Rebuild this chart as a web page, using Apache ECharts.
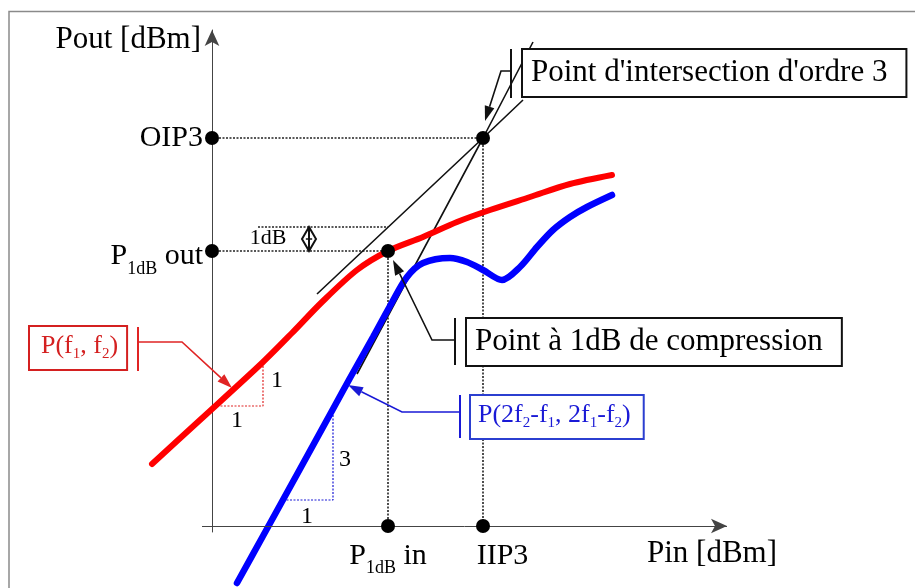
<!DOCTYPE html>
<html>
<head>
<meta charset="utf-8">
<script src="https://cdn.jsdelivr.net/npm/echarts@6/dist/echarts.min.js"></script>
<style>
  html, body { margin: 0; padding: 0; background: #fff; }
  #chart { width: 915px; height: 588px; }
</style>
</head>
<body>
<div id="chart"></div>
<script>
// Fundamental output P(f1, f2) against input power (dBm, schematic scale)
const pinFund  = [-6.0, -1.2, 5.0, 8.0, 11.0, 14.5, 17.6, 21.1, 24.5, 27.8, 31.8, 35.8, 40.0];
const poutFund = [ 6.2, 10.6, 16.3, 19.3, 22.4, 25.6, 27.5, 28.9, 30.4, 31.6, 32.9, 34.2, 35.1];

// Third-order intermodulation output P(2f2-f1, 2f1-f2)
const pinIm3  = [ 2.5, 5.1, 8.8, 12.1, 13.8, 16.1, 17.8, 19.5, 21.1, 23.8, 25.5, 27.1, 29.0, 30.8, 32.5, 34.1, 35.8, 37.5, 40.0];
const poutIm3 = [-5.7, -1.0, 5.7, 11.7, 14.8, 18.9, 22.0, 24.9, 26.3, 26.8, 26.4, 25.6, 24.6, 25.9, 27.9, 29.6, 30.9, 31.9, 33.1];

// Characteristic points
const P1DB_IN = 17.6;
const P1DB_OUT = 27.5;
const LINEAR_AT_P1DB = 29.9;   // ideal (uncompressed) output at P1dB in
const IIP3 = 27.1;
const OIP3 = 38.8;

// Extrapolated slope-1 and slope-3 asymptotes meeting at the intercept point
const asymFund = [[10.5, 23.2], [IIP3, OIP3], [31.1, 42.6]];
const asymIm3  = [[14.5, 15.2], [IIP3, OIP3], [32.1, 48.4]];

// Axis tick values and labels
const xTickValues = [P1DB_IN, IIP3];
const xTickLabels = ['{m|P}{s|1dB}{m| in}', '{g|IIP3}'];
const yTickValues = [P1DB_OUT, OIP3];
const yTickLabels = ['{m|P}{s|1dB}{m| out}', 'OIP3'];

// Pin scale range, and the visible span of its axis line
const X_MIN = -6.5, X_MAX = 51.5;
const X_LINE = [-1, 51.5];
const PX_PER_UNIT = 10;

const SERIF = 'Liberation Serif';

function pairs(xs, ys) { return xs.map((x, i) => [x, ys[i]]); }
function pick(values, labels, v) {
  for (let i = 0; i < values.length; i++) if (Math.abs(values[i] - v) < 1e-6) return labels[i];
  return '';
}

// Callouts: bracket bar, elbow path ending in an arrow tip
const callouts = [
  { color: '#111', bar: [[29.9, 47.7], [29.9, 42.8]], path: [[29.9, 45.5], [28.9, 45.5], [27.3, 40.5]] },
  { color: '#111', bar: [[24.3, 20.8], [24.3, 16.1]], path: [[24.3, 18.6], [22.0, 18.6], [18.1, 26.6]] },
  { color: '#1a1ad6', bar: [[24.8, 13.1], [24.8, 8.8]], path: [[24.8, 11.4], [19.0, 11.4], [13.6, 14.1]] },
  { color: '#e02424', bar: [[-7.4, 19.9], [-7.4, 15.5]], path: [[-7.4, 18.4], [-3.0, 18.4], [2.0, 13.8]] }
];

function renderCallout(params, api) {
  const c = callouts[params.dataIndex];
  const pts = c.path.map(p => api.coord(p));
  const bar = c.bar.map(p => api.coord(p));
  const tip = pts[pts.length - 1], prev = pts[pts.length - 2];
  const dx = tip[0] - prev[0], dy = tip[1] - prev[1];
  const len = Math.hypot(dx, dy), ux = dx / len, uy = dy / len;
  const L = 15, W = 5;
  const base = [tip[0] - ux * L, tip[1] - uy * L];
  const head = [tip, [base[0] - uy * W, base[1] + ux * W], [base[0] + uy * W, base[1] - ux * W]];
  const linePts = pts.slice(0, -1).concat([base]);
  return {
    type: 'group',
    children: [
      { type: 'polyline', shape: { points: linePts }, style: { stroke: c.color, lineWidth: 1.6, fill: null } },
      { type: 'line', shape: { x1: bar[0][0], y1: bar[0][1], x2: bar[1][0], y2: bar[1][1] }, style: { stroke: c.color, lineWidth: 2 } },
      { type: 'polygon', shape: { points: head }, style: { fill: c.color } }
    ]
  };
}

// 1 dB double-headed marker between the ideal line and P1dB out
const dbMarker = [9.7, LINEAR_AT_P1DB, P1DB_OUT];
function renderDbMarker(params, api) {
  const top = api.coord([dbMarker[0], dbMarker[1]]);
  const bot = api.coord([dbMarker[0], dbMarker[2]]);
  const mid = (top[1] + bot[1]) / 2, x = top[0], hw = 7;
  return {
    type: 'group',
    children: [
      { type: 'polygon', shape: { points: [[x, top[1]], [x + hw, mid], [x, bot[1]], [x - hw, mid]] },
        style: { fill: '#fff', stroke: '#111', lineWidth: 2 } },
      { type: 'line', shape: { x1: x, y1: top[1], x2: x, y2: bot[1] }, style: { stroke: '#111', lineWidth: 2 } },
      { type: 'line', shape: { x1: x - hw * 0.45, y1: mid, x2: x + hw * 0.45, y2: mid }, style: { stroke: '#111', lineWidth: 1.5 } }
    ]
  };
}

// Text annotations, anchored by the left-middle (boxes) or centre (plain notes)
const subRich = {
  m: { fontFamily: SERIF, fontSize: 26, lineHeight: 30, verticalAlign: 'top' },
  s: { fontFamily: SERIF, fontSize: 15, lineHeight: 16, verticalAlign: 'top', padding: [14, 0, 0, 0] }
};
const notes = [
  { pos: [31.1, 45.3], text: "Point d'intersection d'ordre 3", size: 31, color: '#000',
    box: { border: '#111', padding: [7, 18, 5, 8] } },
  { pos: [25.5, 18.4], text: 'Point à 1dB de compression', size: 31, color: '#000',
    box: { border: '#111', padding: [7, 18, 5, 8] } },
  { pos: [25.9, 10.9], text: '{m|P(2f}{s|2}{m|-f}{s|1}{m|, 2f}{s|1}{m|-f}{s|2}{m|)}', size: 26, color: '#1a1ad6',
    box: { border: '#2b3fd0', padding: [6, 12, 6, 7] }, rich: subRich },
  { pos: [-18.2, 17.8], text: '{m|P(f}{s|1}{m|, f}{s|2}{m|)}', size: 26, color: '#d42020',
    box: { border: '#d42020', padding: [6, 8, 6, 11] }, rich: subRich },
  { pos: [5.6, 28.8], text: '1dB', size: 22, color: '#000' },
  { pos: [6.5, 14.5], text: '1', size: 24, color: '#000' },
  { pos: [2.5, 10.5], text: '1', size: 24, color: '#000' },
  { pos: [13.3, 6.6], text: '3', size: 24, color: '#000' },
  { pos: [9.5, 0.9], text: '1', size: 24, color: '#000' }
];

function renderNote(params, api) {
  const n = notes[params.dataIndex];
  const p = api.coord(n.pos);
  const style = {
    text: n.text, fontFamily: SERIF, fontSize: n.size, fill: n.color,
    align: n.box ? 'left' : 'center', verticalAlign: 'middle'
  };
  if (n.box) {
    style.backgroundColor = '#fff';
    style.borderColor = n.box.border;
    style.borderWidth = 2;
    style.padding = n.box.padding;
    style.lineHeight = 34;
  }
  if (n.rich) style.rich = n.rich;
  return { type: 'text', x: p[0], y: p[1], style: style };
}

function guide(points, color, width) {
  return {
    type: 'line', data: points, showSymbol: false, symbol: 'none', clip: false, silent: true, z: 2,
    lineStyle: { color: color, width: width, type: [2, 1.5] }
  };
}

function solid(points, color, width, z) {
  return {
    type: 'line', data: points, showSymbol: false, symbol: 'none', clip: false, silent: true, z: z,
    lineStyle: { color: color, width: width }
  };
}

const AXIS_GREY = '#444';

const option = {
  animation: false,
  backgroundColor: '#fff',
  grid: { left: 147, top: 30, right: 188, bottom: 56 },
  xAxis: {
    type: 'value', min: X_MIN, max: X_MAX,
    name: 'Pin [dBm]', nameLocation: 'end', nameGap: -80,
    nameTextStyle: { fontFamily: SERIF, fontSize: 31, color: '#000', align: 'left', verticalAlign: 'top', lineHeight: 34, padding: [11, 0, 0, 0] },
    // the line itself is drawn by the markLine below so that it starts just left of the Pout axis
    axisLine: { show: true, onZero: true, symbol: 'none', lineStyle: { color: AXIS_GREY, width: 1, opacity: 0 } },
    axisTick: { show: false },
    splitLine: { show: false },
    axisLabel: {
      show: true, customValues: xTickValues, margin: 9, color: '#000',
      formatter: v => pick(xTickValues, xTickLabels, v),
      rich: {
        m: { fontFamily: SERIF, fontSize: 30, lineHeight: 32, verticalAlign: 'top' },
        s: { fontFamily: SERIF, fontSize: 18, lineHeight: 18, verticalAlign: 'top', padding: [18, 0, 0, 0] },
        g: { fontFamily: SERIF, fontSize: 30, lineHeight: 32, verticalAlign: 'top', padding: [0, 0, 0, 39] }
      }
    }
  },
  yAxis: {
    type: 'value', min: -0.6, max: 49.6,
    // shift the Pout axis from the grid edge to Pin = 0
    offset: X_MIN * PX_PER_UNIT,
    name: 'Pout [dBm]', nameLocation: 'end', nameGap: -10,
    nameTextStyle: { fontFamily: SERIF, fontSize: 31, color: '#000', align: 'right', verticalAlign: 'middle', padding: [0, 11, 0, 0] },
    axisLine: { show: true, onZero: false, symbol: ['none', 'arrow'], symbolSize: [11, 16], lineStyle: { color: AXIS_GREY, width: 1 } },
    axisTick: { show: false },
    splitLine: { show: false },
    axisLabel: {
      show: true, customValues: yTickValues, margin: 9, color: '#000',
      fontFamily: SERIF, fontSize: 30,
      formatter: v => pick(yTickValues, yTickLabels, v),
      rich: {
        m: { fontFamily: SERIF, fontSize: 30, lineHeight: 32, verticalAlign: 'top', padding: [6, 0, 0, 0] },
        s: { fontFamily: SERIF, fontSize: 18, lineHeight: 18, verticalAlign: 'top', padding: [25, 0, 0, 0] }
      }
    }
  },
  graphic: [
    { type: 'polyline', shape: { points: [[9, 588], [9, 11.5], [915, 11.5]] }, style: { stroke: '#8a8a8a', lineWidth: 1.5, fill: null }, silent: true }
  ],
  series: [
    // Pin axis line with its arrow
    {
      type: 'line', data: [], silent: true, z: 1,
      markLine: {
        silent: true, animation: false, symbol: ['none', 'arrow'], symbolSize: [11, 16],
        lineStyle: { color: AXIS_GREY, width: 1, type: 'solid' }, label: { show: false },
        emphasis: { disabled: true },
        data: [[{ coord: [X_LINE[0], 0] }, { coord: [X_LINE[1], 0] }]]
      }
    },
    // dotted construction lines
    guide([[0, OIP3], [IIP3, OIP3]], '#222', 1.6),
    guide([[0, P1DB_OUT], [P1DB_IN, P1DB_OUT]], '#222', 1.6),
    guide([[4.6, LINEAR_AT_P1DB], [P1DB_IN, LINEAR_AT_P1DB]], '#222', 1.6),
    guide([[P1DB_IN, P1DB_OUT], [P1DB_IN, 0]], '#222', 1.6),
    guide([[IIP3, OIP3], [IIP3, 0]], '#222', 1.6),
    // slope triangles
    guide([[0.5, 12.0], [5.1, 12.0], [5.1, 16.4]], '#e02424', 1.2),
    guide([[7.1, 2.6], [12.1, 2.6], [12.1, 11.4]], '#1a1ad6', 1.2),
    // asymptotes
    solid(asymFund, '#111', 1.6, 3),
    solid(asymIm3, '#111', 1.6, 3),
    // measured curves
    {
      name: 'P(f1, f2)', type: 'line', data: pairs(pinFund, poutFund), smooth: 0.3,
      showSymbol: false, symbol: 'none', clip: false, z: 4,
      lineStyle: { color: '#ff0000', width: 6, cap: 'round' }
    },
    {
      name: 'P(2f2-f1, 2f1-f2)', type: 'line', data: pairs(pinIm3, poutIm3), smooth: 0.3,
      showSymbol: false, symbol: 'none', clip: false, z: 4,
      lineStyle: { color: '#0000ff', width: 6.5, cap: 'round' }
    },
    // characteristic points
    {
      type: 'scatter', symbol: 'circle', symbolSize: 14, clip: false, z: 6,
      itemStyle: { color: '#000', opacity: 1 },
      data: [[0, OIP3], [0, P1DB_OUT], [P1DB_IN, P1DB_OUT], [IIP3, OIP3], [P1DB_IN, 0], [IIP3, 0]]
    },
    // callout leaders
    { type: 'custom', renderItem: renderCallout, data: callouts.map((c, i) => [i]), clip: false, z: 7, silent: true },
    { type: 'custom', renderItem: renderDbMarker, data: [[0]], clip: false, z: 7, silent: true },
    // boxed and free annotations
    { type: 'custom', renderItem: renderNote, data: notes.map((n, i) => [i]), clip: false, z: 8, silent: true }
  ]
};

const chart = echarts.init(document.getElementById('chart'), null, { renderer: 'canvas' });
chart.setOption(option);
</script>
</body>
</html>
